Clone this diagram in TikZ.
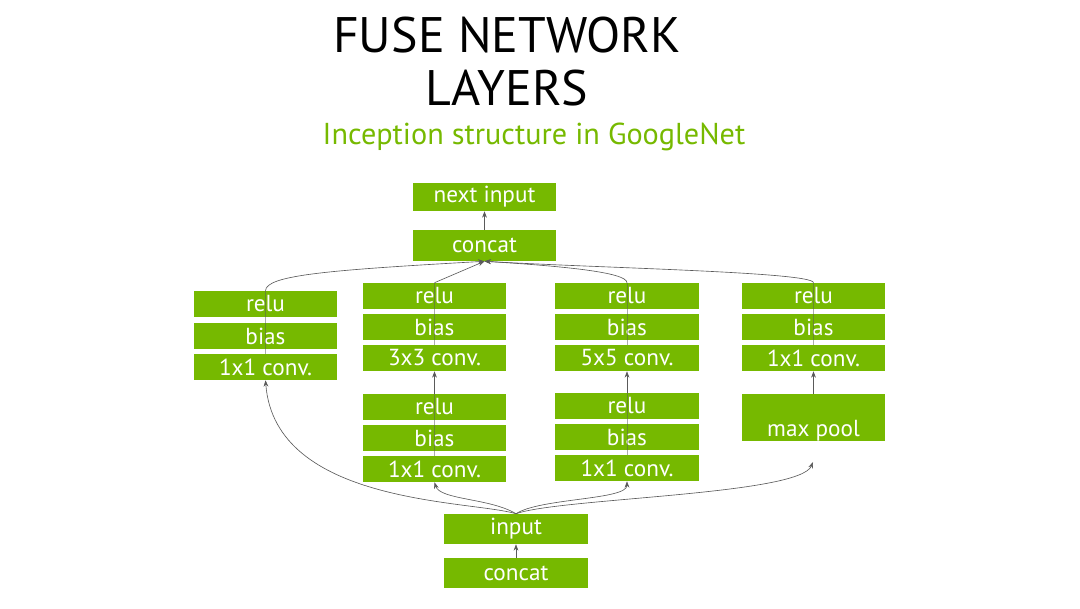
\documentclass[tikz,border=0pt]{standalone}
\usepackage{fontspec}
\setmainfont{PT Sans}
\usetikzlibrary{arrows.meta}
\definecolor{nvgreen}{RGB}{118,185,0}
\definecolor{linkgray}{RGB}{90,90,90}
\tikzset{
    layer/.style={fill=nvgreen, text=white, minimum width=3.575cm, minimum height=0.65cm,
        inner sep=0pt, font=\fontsize{16.5}{19}\selectfont},
    link/.style={draw=linkgray, line width=0.45pt, -{Stealth[length=1.6mm, width=1.2mm]}},
    through/.style={draw=linkgray, line width=0.45pt, opacity=0.5},
}

\begin{document}
\begin{tikzpicture}[x=0.025cm, y=-0.025cm]
    \useasboundingbox (0,0) rectangle (1080,608);
    \node (title1) at (507,35) {\fontsize{35.5}{38}\selectfont FUSE NETWORK};
    \node (title2) at (507,88) {\fontsize{35.5}{38}\selectfont LAYERS};
    \node[text=nvgreen] (sub) at (534,137) {\fontsize{21.5}{25}\selectfont Inception structure in GoogleNet};

    % top
    \node[layer, minimum height=0.7cm] (next) at (484.5,197) {next input};
    \node[layer, minimum height=0.775cm] (cat) at (484.5,245.5) {concat};

    % branch 1
    \node[layer] (r1) at (265.5,304) {relu};
    \node[layer] (b1) at (265.5,336) {bias};
    \node[layer] (k1) at (265.5,367) {1x1 conv.};

    % branch 2
    \node[layer] (r2) at (434.5,296) {relu};
    \node[layer] (b2) at (434.5,327) {bias};
    \node[layer] (k2) at (434.5,358) {3x3 conv.};
    \node[layer] (rr2) at (434.5,407) {relu};
    \node[layer] (bb2) at (434.5,438) {bias};
    \node[layer] (kk2) at (434.5,469) {1x1 conv.};

    % branch 3
    \node[layer] (r3) at (627,296) {relu};
    \node[layer] (b3) at (627,327) {bias};
    \node[layer] (k3) at (627,358) {5x5 conv.};
    \node[layer] (rr3) at (627,406) {relu};
    \node[layer] (bb3) at (627,437) {bias};
    \node[layer] (kk3) at (627,468) {1x1 conv.};

    % branch 4
    \node[layer] (r4) at (813.5,296) {relu};
    \node[layer] (b4) at (813.5,327) {bias};
    \node[layer] (k4) at (813.5,358) {1x1 conv.};
    \node[layer, minimum height=1.175cm, text height=1.05cm, text depth=0.125cm] (mp) at (813.5,417.5) {max pool};
    \coordinate (p4) at (813,462);

    % bottom
    \node[layer, minimum height=0.75cm] (in) at (516,529) {input};
    \node[layer, minimum height=0.75cm] (cat0) at (516,573) {concat};

    % lines through the stacks
    \draw[through] (k1.north) -- (r1.north);
    \draw[through] (k2.north) -- (r2.north);
    \draw[through] (kk2.north) -- (rr2.north);
    \draw[through] (k3.north) -- (r3.north);
    \draw[through] (kk3.north) -- (rr3.north);
    \draw[through] (k4.north) -- (r4.north);

    % into concat
    \draw[link] (cat.north) -- (next.south);
    \draw[link] (r1.north) .. controls (266,275) and (330,270) .. (cat.south);
    \draw[link] (r2.north) -- (cat.south);
    \draw[link] (r3.north) .. controls (627,272) and (560,266) .. (cat.south);
    \draw[link] (r4.north) .. controls (813,272) and (600,268) .. (cat.south);

    % inside branches
    \draw[link] (rr2.north) -- (k2.south);
    \draw[link] (rr3.north) -- (k3.south);
    \draw[link] (mp.north) -- (k4.south);

    % from input
    \draw[link] (cat0.north) -- (in.south);
    \draw[link] (in.north) .. controls (470,500) and (275,505) .. (k1.south);
    \draw[link] (in.north) .. controls (490,498) and (440,500) .. (kk2.south);
    \draw[link] (in.north) .. controls (540,498) and (627,500) .. (kk3.south);
    \draw[link] (in.north) .. controls (560,498) and (800,495) .. (p4);
\end{tikzpicture}
\end{document}
